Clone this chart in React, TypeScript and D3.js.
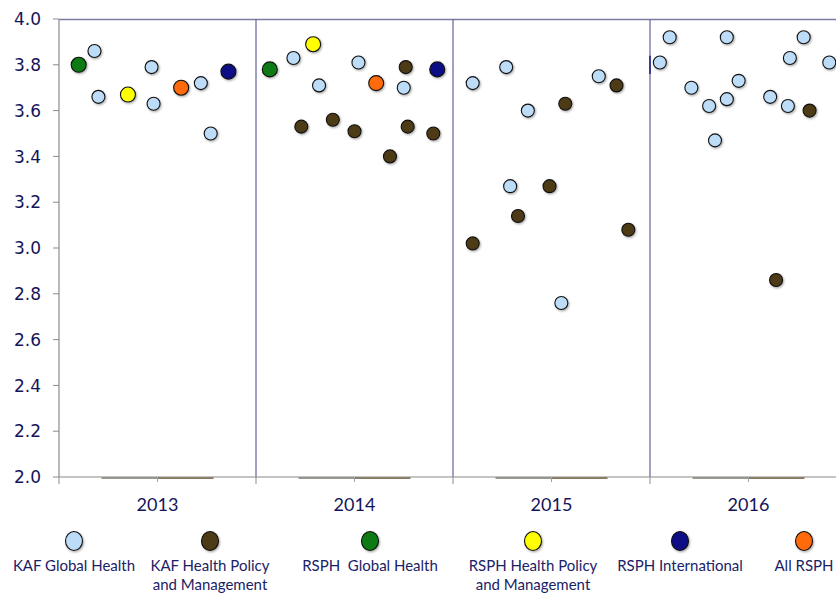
import React, { useEffect, useRef } from 'react';
import * as d3 from 'd3';

// x positions are in "year band" units: 0..1 = 2013, 1..2 = 2014, ...
const years = ['2013', '2014', '2015', '2016'];
const yTicks = [2.0, 2.2, 2.4, 2.6, 2.8, 3.0, 3.2, 3.4, 3.6, 3.8, 4.0];

const kafGlobalHealth: [number, number][] = [
  [0.18, 3.86], [0.2, 3.66], [0.47, 3.79], [0.48, 3.63], [0.72, 3.72], [0.77, 3.5],
  [1.19, 3.83], [1.32, 3.71], [1.52, 3.81], [1.75, 3.7],
  [2.1, 3.72], [2.27, 3.79], [2.38, 3.6], [2.74, 3.75], [2.29, 3.27], [2.55, 2.76],
  [3.05, 3.81], [3.1, 3.92], [3.21, 3.7], [3.3, 3.62], [3.33, 3.47], [3.39, 3.65],
  [3.39, 3.92], [3.45, 3.73], [3.61, 3.66], [3.7, 3.62], [3.71, 3.83], [3.78, 3.92],
  [3.91, 3.81],
];
const kafHealthPolicy: [number, number][] = [
  [1.23, 3.53], [1.39, 3.56], [1.5, 3.51], [1.68, 3.4], [1.76, 3.79], [1.77, 3.53], [1.9, 3.5],
  [2.83, 3.71], [2.57, 3.63], [2.49, 3.27], [2.33, 3.14], [2.1, 3.02], [2.89, 3.08],
  [3.81, 3.6], [3.64, 2.86],
];
const rsphGlobalHealth: [number, number][] = [[0.1, 3.8], [1.07, 3.78]];
const rsphHealthPolicy: [number, number][] = [[0.35, 3.67], [1.29, 3.89]];
const rsphInternational: [number, number][] = [[0.86, 3.77], [1.92, 3.78]];
const allRsph: [number, number][] = [[0.62, 3.7], [1.61, 3.72]];

const seriesNames = [
  ['KAF Global Health'],
  ['KAF Health Policy', 'and Management'],
  ['RSPH  Global Health'],
  ['RSPH Health Policy', 'and Management'],
  ['RSPH International'],
  ['All RSPH'],
];
const seriesColors = ['#bcdcf8', '#4e3a14', '#0b7a12', '#ffff00', '#0a0a86', '#ff6a08'];
const seriesData = [kafGlobalHealth, kafHealthPolicy, rsphGlobalHealth, rsphHealthPolicy, rsphInternational, allRsph];
const seriesRadius = [6.5, 6.5, 7.5, 7.5, 7.5, 7.5];
const legendX = [74, 210, 370, 533, 680, 804];

export default function App() {
  const svgRef = useRef<SVGSVGElement>(null);
  const width = 836;
  const height = 593;

  useEffect(() => {
    const svg = d3.select(svgRef.current);
    svg.selectAll('*').remove();

    const left = 59;
    const top = 19;
    const bottom = 477;
    const bandW = 197;

    const x = d3.scaleLinear().domain([0, 4]).range([left, left + 4 * bandW]);
    const y = d3.scaleLinear().domain([2, 4]).range([bottom, top]);
    const band = d3.scaleBand().domain(years).range([left, left + 4 * bandW]);

    const defs = svg.append('defs');
    const f = defs.append('filter').attr('id', 'shadow').attr('x', '-50%').attr('y', '-50%').attr('width', '200%').attr('height', '200%');
    f.append('feDropShadow').attr('dx', 1).attr('dy', 1.2).attr('stdDeviation', 0.9)
      .attr('flood-color', '#000').attr('flood-opacity', 0.35);

    // frame: top line + dividers
    svg.append('line')
      .attr('x1', left).attr('x2', width).attr('y1', top + 0.5).attr('y2', top + 0.5)
      .attr('stroke', '#7b7ba6').attr('stroke-width', 1.5);
    [1, 2, 3].forEach(i => {
      svg.append('line')
        .attr('x1', x(i)).attr('x2', x(i)).attr('y1', top).attr('y2', bottom)
        .attr('stroke', '#6f6fa3').attr('stroke-width', 1.3);
    });
    // small dark mark on 2016 divider
    svg.append('line')
      .attr('x1', x(3)).attr('x2', x(3)).attr('y1', y(3.84)).attr('y2', y(3.76))
      .attr('stroke', '#1a1a80').attr('stroke-width', 1.5);

    // y axis
    svg.append('line')
      .attr('x1', left).attr('x2', left).attr('y1', top).attr('y2', bottom)
      .attr('stroke', '#8a8a9a').attr('stroke-width', 1.2);
    yTicks.forEach(t => {
      svg.append('line')
        .attr('x1', left - 6).attr('x2', left).attr('y1', y(t)).attr('y2', y(t))
        .attr('stroke', '#8a8a8a');
      svg.append('text')
        .attr('x', 41).attr('y', y(t)).attr('dy', '0.36em')
        .attr('text-anchor', 'end')
        .style('font-family', 'DejaVu Sans, sans-serif')
        .style('font-size', '17px')
        .style('fill', '#14145a')
        .text(t.toFixed(1));
    });

    // zero-height bars at baseline
    years.forEach(yr => {
      const c = (band(yr) as number) + band.bandwidth() / 2;
      svg.append('line')
        .attr('x1', c - 56).attr('x2', c).attr('y1', bottom + 1).attr('y2', bottom + 1)
        .attr('stroke', '#9b9b90').attr('stroke-width', 2);
      svg.append('line')
        .attr('x1', c).attr('x2', c + 56).attr('y1', bottom + 1).attr('y2', bottom + 1)
        .attr('stroke', '#8a7a5c').attr('stroke-width', 2);
    });

    // x axis
    svg.append('line')
      .attr('x1', left).attr('x2', width).attr('y1', bottom).attr('y2', bottom)
      .attr('stroke', '#8a8a8a').attr('stroke-width', 1.2);
    [0, 1, 2, 3].forEach(i => {
      svg.append('line')
        .attr('x1', x(i)).attr('x2', x(i)).attr('y1', bottom).attr('y2', bottom + 7)
        .attr('stroke', '#a0a0a0').attr('stroke-width', 1.2);
    });
    years.forEach(yr => {
      const c = (band(yr) as number) + band.bandwidth() / 2;
      svg.append('line')
        .attr('x1', c).attr('x2', c).attr('y1', bottom).attr('y2', bottom + 5)
        .attr('stroke', '#a0a0a0');
      svg.append('text')
        .attr('x', c).attr('y', 505).attr('dy', '0.35em')
        .attr('text-anchor', 'middle')
        .style('font-family', 'Lato, sans-serif')
        .style('font-size', '18px')
        .style('fill', '#14145a')
        .text(yr);
    });

    // points
    seriesData.forEach((data, si) => {
      svg.append('g').selectAll('circle')
        .data(data)
        .enter()
        .append('circle')
        .attr('cx', d => x(d[0]))
        .attr('cy', d => y(d[1]))
        .attr('r', seriesRadius[si])
        .attr('fill', seriesColors[si])
        .attr('stroke', '#111')
        .attr('stroke-width', 1.1)
        .attr('filter', 'url(#shadow)');
    });

    // legend
    seriesNames.forEach((lines, i) => {
      svg.append('ellipse')
        .attr('cx', legendX[i]).attr('cy', 541)
        .attr('rx', 8.5).attr('ry', 9.5)
        .attr('fill', seriesColors[i])
        .attr('stroke', '#111')
        .attr('stroke-width', 1.1)
        .attr('filter', 'url(#shadow)');
      lines.forEach((ln, j) => {
        svg.append('text')
          .attr('x', legendX[i]).attr('y', 566 + j * 19).attr('dy', '0.35em')
          .attr('text-anchor', 'middle')
          .style('font-family', 'Lato, sans-serif')
          .style('font-size', '15px')
          .style('white-space', 'pre')
          .attr('xml:space', 'preserve')
          .style('fill', '#1a2266')
          .text(ln);
      });
    });
  }, []);

  return (
    <svg
      ref={svgRef}
      width={width}
      height={height}
      style={{ position: 'absolute', left: 0, top: 0, background: '#fff' }}
    />
  );
}
